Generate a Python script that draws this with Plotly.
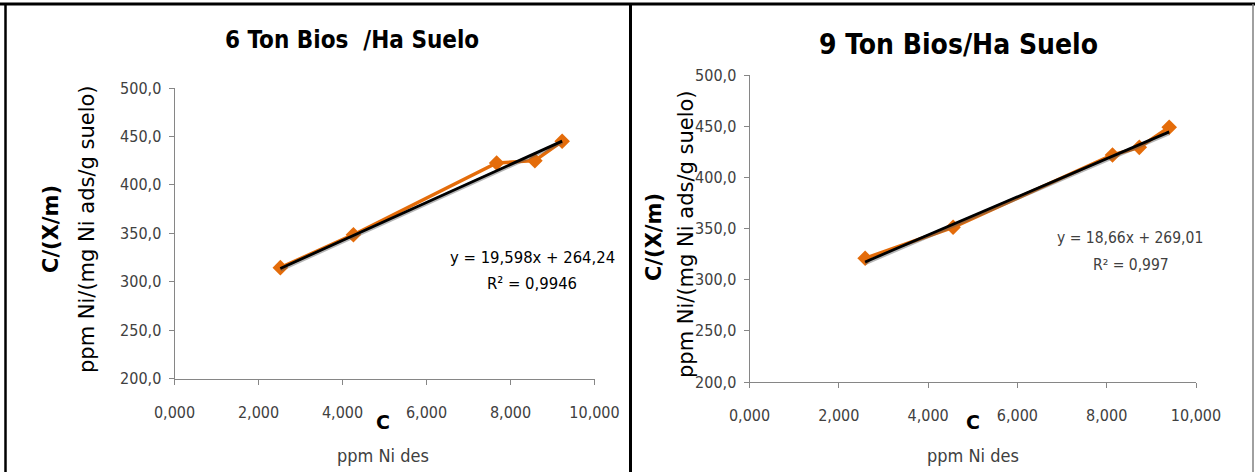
import plotly.graph_objects as go

W, H = 1255, 472

# Isotherm data: C (ppm Ni des) vs C/(X/m)
c_6ton = [2.52, 4.26, 7.67, 8.58, 9.23]
q_6ton = [314.5, 348.5, 422.5, 425.0, 445.0]
c_9ton = [2.59, 4.56, 8.13, 8.73, 9.40]
q_9ton = [320.9, 351.2, 421.8, 429.3, 448.9]

# Linear fits as stated on the chart: slope, intercept, R²
fit_6ton = (19.598, 264.24, 0.9946)
fit_9ton = (18.66, 269.01, 0.997)

titles = ["6 Ton Bios\u00a0\u00a0/Ha Suelo", "9 Ton Bios/Ha Suelo"]
x_ticks = [0, 2, 4, 6, 8, 10]
y_ticks = [200, 250, 300, 350, 400, 450, 500]

ORANGE = "#E46C0A"
AXIS = "#868686"
NARROW = "DejaVu Sans Condensed, sans-serif"
WIDE = "DejaVu Sans, Verdana, sans-serif"


def px(x):
    return x / W


def py(y):
    return 1 - y / H


fig = go.Figure()

panels = [
    dict(c=c_6ton, q=q_6ton, fit=fit_6ton, xa="x", ya="y"),
    dict(c=c_9ton, q=q_9ton, fit=fit_9ton, xa="x2", ya="y2"),
]

for p in panels:
    fig.add_trace(go.Scatter(
        x=p["c"], y=p["q"], mode="lines+markers", xaxis=p["xa"], yaxis=p["ya"],
        line=dict(color=ORANGE, width=3.5),
        marker=dict(symbol="diamond", size=12, color=ORANGE),
        showlegend=False, hoverinfo="skip"))
    m, b, _ = p["fit"]
    xs = [min(p["c"]), max(p["c"])]
    fit_y = [m * v + b for v in xs]
    # soft grey shadow under the fitted line
    fig.add_trace(go.Scatter(
        x=xs, y=[v - 1.2 for v in fit_y], mode="lines", xaxis=p["xa"], yaxis=p["ya"],
        line=dict(color="rgba(90,90,90,0.45)", width=4), showlegend=False, hoverinfo="skip"))
    fig.add_trace(go.Scatter(
        x=xs, y=fit_y, mode="lines", xaxis=p["xa"], yaxis=p["ya"],
        line=dict(color="#000000", width=2.8), showlegend=False, hoverinfo="skip"))

axis_common = dict(
    showgrid=False, zeroline=False, showline=True, linecolor=AXIS, linewidth=1,
    ticks="outside", ticklen=5, tickcolor=AXIS, tickwidth=1, automargin=False,
    tickfont=dict(family=NARROW, size=16, color="#404040"))

fig.update_layout(
    width=W, height=H,
    margin=dict(l=0, r=0, t=0, b=0, pad=0, autoexpand=False),
    paper_bgcolor="white", plot_bgcolor="white", separators=",.",
    xaxis=dict(domain=[px(174.5), px(594.5)], range=[0, 10], tickvals=x_ticks,
               tickformat=".3f", anchor="y", ticklabelstandoff=14, **axis_common),
    yaxis=dict(domain=[py(378.5), py(88)], range=[200, 500], tickvals=y_ticks,
               tickformat=".1f", anchor="x", ticklabelstandoff=4, **axis_common),
    xaxis2=dict(domain=[px(749.5), px(1196)], range=[0, 10], tickvals=x_ticks,
                tickformat=".3f", anchor="y2", ticklabelstandoff=14, **axis_common),
    yaxis2=dict(domain=[py(382), py(75)], range=[200, 500], tickvals=y_ticks,
                tickformat=".1f", anchor="x2", ticklabelstandoff=4, **axis_common),
)

# Panel frames
fig.add_shape(type="line", xref="paper", yref="paper", x0=0, x1=1, y0=py(4), y1=py(4),
              line=dict(color="black", width=3))
fig.add_shape(type="line", xref="paper", yref="paper", x0=px(5.5), x1=px(5.5), y0=0, y1=py(4),
              line=dict(color="black", width=2.5))
fig.add_shape(type="line", xref="paper", yref="paper", x0=px(630.5), x1=px(630.5), y0=0, y1=py(4),
              line=dict(color="black", width=3))
fig.add_shape(type="line", xref="paper", yref="paper", x0=px(1253), x1=px(1253), y0=0, y1=py(4),
              line=dict(color="#808080", width=1.5))


def note(x, y, text, size, family, color="black", bold=False, angle=0):
    if bold:
        text = "<b>" + text + "</b>"
    fig.add_annotation(x=px(x), y=py(y), xref="paper", yref="paper", text=text,
                       showarrow=False, textangle=angle, xanchor="center", yanchor="middle",
                       font=dict(family=family, size=size, color=color))


note(352, 40, titles[0], 24, NARROW, bold=True)
note(958, 45, titles[1], 28, NARROW, bold=True)

# Axis titles
for xc, yl1, yl2, ymid1, ymid2 in [(383, 51, 87, 229, 229), (973, 654, 686, 237, 234)]:
    note(xc, 422, "C", 19, WIDE, bold=True)
    note(xc, 455, "ppm Ni des", 18, NARROW, color="#404040")
    note(yl1, ymid1, "C/(X/m)", 21, WIDE, bold=True, angle=-90)
    note(yl2, ymid2, "ppm Ni/(mg Ni ads/g suelo)", 21, WIDE, angle=-90)

# Regression labels
m, b, r2 = fit_6ton
note(532, 257, f"y = {m:.3f}x + {b:.2f}".replace(".", ","), 16.5, NARROW)
note(532, 283, f"R² = {r2:.4f}".replace(".", ","), 16.5, NARROW)
m, b, r2 = fit_9ton
note(1130, 238, f"y = {m:.2f}x + {b:.2f}".replace(".", ","), 15.5, NARROW, color="#404040")
note(1131, 265, f"R² = {r2:.3f}".replace(".", ","), 15.5, NARROW, color="#404040")

fig.write_html("out.html")
